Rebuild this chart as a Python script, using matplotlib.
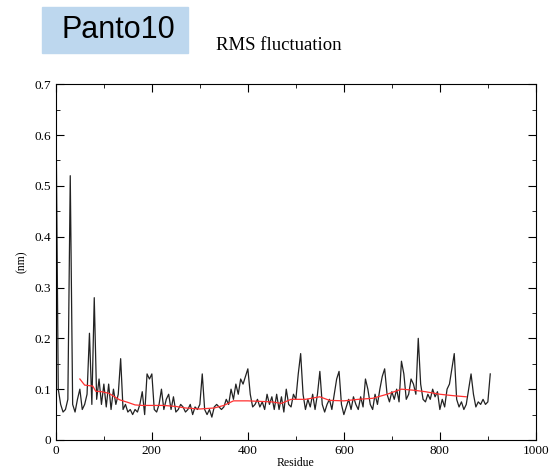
import numpy as np
import matplotlib.pyplot as plt
from matplotlib.ticker import MultipleLocator
from matplotlib.patches import Rectangle

# RMSF per residue, read every 5 residues
residues = np.arange(0, 910, 5)
rmsf = [
    0.68, 0.10, 0.07, 0.055, 0.06, 0.08, 0.52, 0.07, 0.055, 0.08,
    0.10, 0.06, 0.07, 0.09, 0.21, 0.07, 0.28, 0.08, 0.12, 0.07,
    0.11, 0.065, 0.11, 0.06, 0.10, 0.07, 0.09, 0.16, 0.06, 0.07,
    0.055, 0.06, 0.05, 0.06, 0.055, 0.07, 0.095, 0.05, 0.13, 0.12,
    0.13, 0.06, 0.055, 0.07, 0.10, 0.06, 0.08, 0.09, 0.06, 0.085,
    0.055, 0.06, 0.07, 0.065, 0.055, 0.06, 0.07, 0.05, 0.065, 0.06,
    0.07, 0.13, 0.06, 0.05, 0.06, 0.045, 0.065, 0.07, 0.065, 0.06,
    0.065, 0.08, 0.07, 0.10, 0.08, 0.11, 0.09, 0.12, 0.11, 0.125,
    0.14, 0.09, 0.065, 0.07, 0.08, 0.065, 0.075, 0.06, 0.09, 0.07,
    0.085, 0.06, 0.09, 0.06, 0.085, 0.055, 0.10, 0.07, 0.065, 0.09,
    0.08, 0.13, 0.17, 0.09, 0.06, 0.08, 0.065, 0.09, 0.06, 0.09,
    0.135, 0.07, 0.055, 0.07, 0.08, 0.06, 0.09, 0.12, 0.135, 0.07,
    0.05, 0.065, 0.08, 0.06, 0.085, 0.07, 0.06, 0.085, 0.065, 0.12,
    0.10, 0.07, 0.06, 0.09, 0.07, 0.10, 0.125, 0.14, 0.09, 0.075,
    0.095, 0.08, 0.10, 0.075, 0.155, 0.13, 0.08, 0.09, 0.12, 0.11,
    0.09, 0.20, 0.11, 0.08, 0.075, 0.09, 0.08, 0.10, 0.085, 0.095,
    0.06, 0.08, 0.065, 0.10, 0.11, 0.14, 0.17, 0.08, 0.065, 0.075,
    0.06, 0.07, 0.10, 0.13, 0.09, 0.065, 0.075, 0.07, 0.08, 0.07,
    0.075, 0.13,
]

# running average (red)
avg_res = [50, 60, 77, 83, 95, 110, 133, 150, 165, 180, 200, 225, 250, 270,
           300, 330, 350, 370, 400, 425, 450, 470, 490, 520, 550, 570, 600,
           630, 660, 690, 720, 745, 770, 800, 830, 855]
avg_val = [0.12, 0.108, 0.106, 0.096, 0.095, 0.092, 0.079, 0.074, 0.069, 0.068,
           0.068, 0.068, 0.066, 0.063, 0.061, 0.063, 0.068, 0.077, 0.077, 0.076,
           0.075, 0.072, 0.08, 0.08, 0.085, 0.078, 0.077, 0.08, 0.082, 0.09,
           0.1, 0.098, 0.095, 0.09, 0.087, 0.085]

serif = "Liberation Serif"

fig = plt.figure(figsize=(5.53, 4.75), dpi=100)
ax = fig.add_axes([0.101, 0.0737, 0.868, 0.749])

ax.plot(residues, rmsf, color="#222222", lw=0.9)
ax.plot(avg_res, avg_val, color="#ff3030", lw=0.9)

ax.set_xlim(0, 1000)
ax.set_ylim(0, 0.7)
ax.xaxis.set_major_locator(MultipleLocator(200))
ax.xaxis.set_minor_locator(MultipleLocator(100))
ax.yaxis.set_major_locator(MultipleLocator(0.1))
ax.yaxis.set_minor_locator(MultipleLocator(0.05))
ax.tick_params(which="both", direction="in", top=True, right=True, labelsize=9.5)
ax.tick_params(which="major", length=6)
ax.tick_params(which="minor", length=3)
ax.set_yticks(np.arange(0, 0.71, 0.1))
ax.set_yticklabels(["0", "0.1", "0.2", "0.3", "0.4", "0.5", "0.6", "0.7"])
for lab in ax.get_xticklabels() + ax.get_yticklabels():
    lab.set_fontfamily(serif)

ax.set_xlabel("Residue", fontfamily=serif, fontsize=8.5, labelpad=0)
ax.set_ylabel("(nm)", fontfamily=serif, fontsize=8.5, labelpad=5)

# header
fig.patches.append(Rectangle((42 / 553, 1 - 53 / 475), 146 / 553, 46 / 475,
                             transform=fig.transFigure, color="#bdd7ee"))
fig.text(118 / 553, 1 - 30 / 475, "Panto10", fontfamily="Liberation Sans",
         fontsize=22, ha="center", va="center")
fig.text(216 / 553, 1 - 45 / 475, "RMS fluctuation", fontfamily=serif,
         fontsize=13.5, ha="left", va="center")

fig.savefig("out.png", dpi=100)
